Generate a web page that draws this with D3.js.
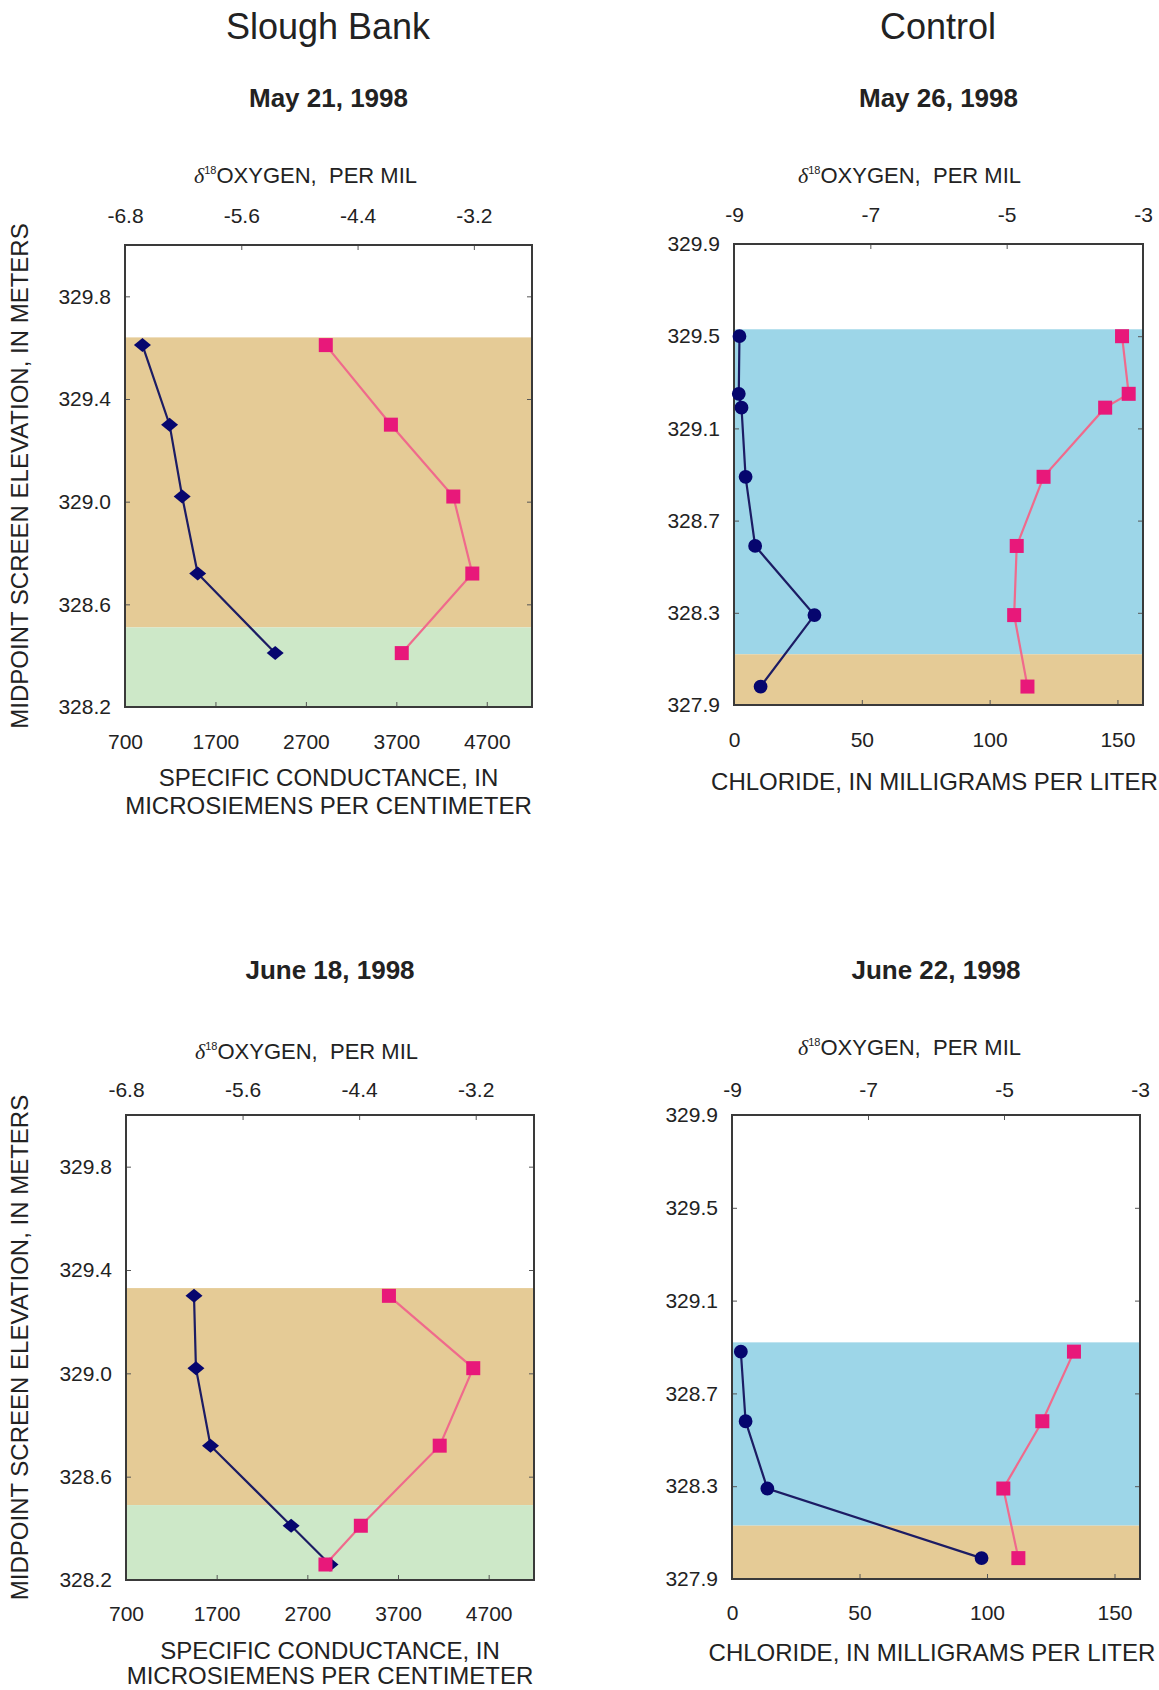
<!DOCTYPE html>
<html><head><meta charset="utf-8">
<script src="https://cdn.jsdelivr.net/npm/d3@7"></script>
<style>
body{margin:0;background:#fff}
svg{display:block}
text{font-family:"Liberation Sans",Arial,Helvetica,sans-serif;fill:#222}
</style>
</head><body>
<svg id="chart" width="1159" height="1690"></svg>
<script>
// ---------- DATA ----------
const sites = ["Slough Bank", "Control"];
const dates = ["May 21, 1998", "May 26, 1998", "June 18, 1998", "June 22, 1998"];

const yTitle = "MIDPOINT SCREEN ELEVATION, IN METERS";
const o18Title = "OXYGEN,  PER MIL";
const scTitleLines = ["SPECIFIC CONDUCTANCE, IN", "MICROSIEMENS PER CENTIMETER"];
const clTitleLines = ["CHLORIDE, IN MILLIGRAMS PER LITER"];

// tick values
const sloughElevTicks = [328.2, 328.6, 329.0, 329.4, 329.8];
const sloughSCTicks = [700, 1700, 2700, 3700, 4700];
const sloughO18Ticks = [-6.8, -5.6, -4.4, -3.2];
const controlElevTicks = [327.9, 328.3, 328.7, 329.1, 329.5, 329.9];
const controlClTicks = [0, 50, 100, 150];
const controlO18Ticks = [-9, -7, -5, -3];

// axis extents
const sloughElevDomain = [328.2, 330.0];
const sloughSCDomain = [700, 5200];
const sloughO18Domain = [-6.8, -2.6];
const controlElevDomain = [327.9, 329.9];
const controlClDomain = [0, 160];
const controlO18Domain = [-9, -3];

// Slough Bank, May 21, 1998
const may21Elev = [329.61, 329.30, 329.02, 328.72, 328.41];
const may21O18 = [-6.62, -6.34, -6.21, -6.05, -5.25];
const may21SC = [2920, 3640, 4330, 4540, 3760];
const may21Bands = [{top: 329.64, bottom: 328.51, unit: "silt"}, {top: 328.51, bottom: 328.2, unit: "sand"}];

// Control, May 26, 1998
const may26Elev = [329.50, 329.25, 329.19, 328.89, 328.59, 328.29, 327.98];
const may26O18 = [-8.92, -8.93, -8.89, -8.83, -8.69, -7.82, -8.61];
const may26Cl = [151.8, 154.4, 145.2, 121.1, 110.6, 109.6, 114.8];
const may26Bands = [{top: 329.53, bottom: 328.12, unit: "water"}, {top: 328.12, bottom: 327.9, unit: "silt"}];

// Slough Bank, June 18, 1998
const june18Elev = [329.30, 329.02, 328.72, 328.41, 328.26];
const june18O18 = [-6.10, -6.08, -5.93, -5.10, -4.70];
const june18SC = [3600, 4530, 4160, 3290, 2900];
const june18Bands = [{top: 329.33, bottom: 328.49, unit: "silt"}, {top: 328.49, bottom: 328.2, unit: "sand"}];

// Control, June 22, 1998
const june22Elev = [328.88, 328.58, 328.29, 327.99];
const june22O18 = [-8.87, -8.80, -8.48, -5.33];
const june22Cl = [134.1, 121.7, 106.4, 112.3];
const june22Bands = [{top: 328.92, bottom: 328.13, unit: "water"}, {top: 328.13, bottom: 327.9, unit: "silt"}];

// ---------- STYLE / LAYOUT ----------
const bandColor = {silt: "#e5cb96", sand: "#cde8c8", water: "#9dd6e8"};
const navy = "#06066e", navyLine = "#1c1c64";
const pink = "#e8187a", pinkLine = "#f06a8c";
const fmtHy = f => v => d3.format(f)(v).replace("\u2212", "-");

const svg = d3.select("#chart");

function drawPanel(p) {
  const g = svg.append("g");
  const y = d3.scaleLinear().domain(p.yDomain).range([p.B, p.T]);
  const xb = d3.scaleLinear().domain(p.xbDomain).range([p.L, p.R]);
  const xt = d3.scaleLinear().domain(p.xtDomain).range([p.L, p.R]);

  // bands
  g.selectAll("rect.band").data(p.bands).join("rect")
    .attr("class", "band")
    .attr("x", p.L).attr("width", p.R - p.L)
    .attr("y", d => y(d.top)).attr("height", d => y(d.bottom) - y(d.top))
    .attr("fill", d => bandColor[d.unit]);

  // axes (inward ticks)
  const axStyle = (sel) => {
    sel.select(".domain").remove();
    sel.selectAll("line").attr("stroke", "#555").attr("stroke-width", 1);
    sel.selectAll("text").style("font-family", "'Liberation Sans',Arial,sans-serif")
      .style("font-size", "21px").attr("fill", "#2a2a2a");
  };
  g.append("g").attr("transform", `translate(0,${p.B})`)
    .call(d3.axisBottom(xb).tickValues(p.xbTicks).tickFormat(fmtHy("d")).tickSize(-5).tickPadding(p.botPad))
    .call(axStyle);
  g.append("g").attr("transform", `translate(0,${p.T})`)
    .call(d3.axisTop(xt).tickValues(p.xtTicks).tickFormat(p.xtFmt).tickSize(-5).tickPadding(p.topPad))
    .call(axStyle);
  g.append("g").attr("transform", `translate(${p.L},0)`)
    .call(d3.axisLeft(y).tickValues(p.yTicks).tickFormat(fmtHy(".1f")).tickSize(-5).tickPadding(14))
    .call(axStyle);
  g.append("g").attr("transform", `translate(${p.R},0)`)
    .call(d3.axisRight(y).tickValues(p.yTicks).tickFormat("").tickSize(-5))
    .call(axStyle);

  // frame
  g.append("rect").attr("x", p.L).attr("y", p.T).attr("width", p.R - p.L).attr("height", p.B - p.T)
    .attr("fill", "none").attr("stroke", "#3a3a3a").attr("stroke-width", 2);

  // series 1 (navy, top axis)
  const s1 = p.elev.map((e, i) => ({x: p.o18[i], y: e}));
  const s2 = p.elev.map((e, i) => ({x: p.other[i], y: e}));
  g.append("path").datum(s1)
    .attr("d", d3.line().x(d => xt(d.x)).y(d => y(d.y)))
    .attr("fill", "none").attr("stroke", navyLine).attr("stroke-width", 2.2);
  const diamond = "M0,-7L8.5,0L0,7L-8.5,0Z";
  g.selectAll("path.m1").data(s1).join("path").attr("class", "m1")
    .attr("transform", d => `translate(${xt(d.x)},${y(d.y)})`)
    .attr("d", p.circle ? d3.symbol(d3.symbolCircle, 150)() : diamond)
    .attr("fill", navy);

  // series 2 (pink, bottom axis)
  g.append("path").datum(s2)
    .attr("d", d3.line().x(d => xb(d.x)).y(d => y(d.y)))
    .attr("fill", "none").attr("stroke", pinkLine).attr("stroke-width", 2.2);
  g.selectAll("rect.m2").data(s2).join("rect").attr("class", "m2")
    .attr("x", d => xb(d.x) - 7).attr("y", d => y(d.y) - 7)
    .attr("width", 14).attr("height", 14).attr("fill", pink);

  // date title
  g.append("text").attr("x", (p.L + p.R) / 2).attr("y", p.dateY)
    .attr("text-anchor", "middle").style("font-size", "26px").style("font-weight", "bold")
    .attr("fill", "#1a1a1a").text(p.date);

  // delta O18 title
  const dt = g.append("text").attr("x", p.L + p.dOff).attr("y", p.dY)
    .style("font-size", "22px").style("white-space", "pre").attr("fill", "#2a2a2a");
  dt.append("tspan").style("font-family", "'Liberation Serif',serif").style("font-style", "italic").text("\u03b4");
  dt.append("tspan").attr("dy", -9).style("font-size", "11px").text("18");
  dt.append("tspan").attr("dy", 9).text(o18Title);

  // bottom axis title
  const cx = (p.L + p.R) / 2 + p.tOff;
  p.titleLines.forEach((t, i) => {
    g.append("text").attr("x", cx).attr("y", p.B + p.titleDY + i * p.lineGap)
      .attr("text-anchor", "middle").style("font-size", "24px").attr("fill", "#2a2a2a").text(t);
  });

  // y title (left column only)
  if (p.yTitle) {
    g.append("text").attr("transform", `translate(28,${(p.T + p.B) / 2}) rotate(-90)`)
      .attr("text-anchor", "middle").style("font-size", "24px").attr("fill", "#2a2a2a").text(yTitle);
  }
}

const o18SloughFmt = fmtHy(".1f");
const o18ControlFmt = fmtHy("d");

// site headers
svg.append("text").attr("x", 328).attr("y", 39).attr("text-anchor", "middle")
  .style("font-size", "36px").attr("fill", "#1a1a1a").text(sites[0]);
svg.append("text").attr("x", 938).attr("y", 39).attr("text-anchor", "middle")
  .style("font-size", "36px").attr("fill", "#1a1a1a").text(sites[1]);

drawPanel({L: 125, R: 532, T: 245, B: 707, yDomain: sloughElevDomain, xbDomain: sloughSCDomain, xtDomain: sloughO18Domain,
  yTicks: sloughElevTicks, xbTicks: sloughSCTicks, xtTicks: sloughO18Ticks, xtFmt: o18SloughFmt,
  bands: may21Bands, elev: may21Elev, o18: may21O18, other: may21SC, circle: false,
  date: dates[0], dateY: 107, dOff: 69, dY: 183, topPad: 22, botPad: 27,
  titleLines: scTitleLines, titleDY: 79, lineGap: 28, tOff: 0, yTitle: true});

drawPanel({L: 734, R: 1143, T: 244, B: 705, yDomain: controlElevDomain, xbDomain: controlClDomain, xtDomain: controlO18Domain,
  yTicks: controlElevTicks, xbTicks: controlClTicks, xtTicks: controlO18Ticks, xtFmt: o18ControlFmt,
  bands: may26Bands, elev: may26Elev, o18: may26O18, other: may26Cl, circle: true,
  date: dates[1], dateY: 107, dOff: 64, dY: 183, topPad: 22, botPad: 27,
  titleLines: clTitleLines, titleDY: 85, lineGap: 28, tOff: -4, yTitle: false});

drawPanel({L: 126, R: 534, T: 1115, B: 1580, yDomain: sloughElevDomain, xbDomain: sloughSCDomain, xtDomain: sloughO18Domain,
  yTicks: sloughElevTicks, xbTicks: sloughSCTicks, xtTicks: sloughO18Ticks, xtFmt: o18SloughFmt,
  bands: june18Bands, elev: june18Elev, o18: june18O18, other: june18SC, circle: false,
  date: dates[2], dateY: 979, dOff: 69, dY: 1059, topPad: 18, botPad: 26,
  titleLines: scTitleLines, titleDY: 79, lineGap: 25, tOff: 0, yTitle: true});

drawPanel({L: 732, R: 1140, T: 1115, B: 1579, yDomain: controlElevDomain, xbDomain: controlClDomain, xtDomain: controlO18Domain,
  yTicks: controlElevTicks, xbTicks: controlClTicks, xtTicks: controlO18Ticks, xtFmt: o18ControlFmt,
  bands: june22Bands, elev: june22Elev, o18: june22O18, other: june22Cl, circle: true,
  date: dates[3], dateY: 979, dOff: 66, dY: 1055, topPad: 18, botPad: 26,
  titleLines: clTitleLines, titleDY: 82, lineGap: 28, tOff: -4, yTitle: false});
</script>
</body></html>
